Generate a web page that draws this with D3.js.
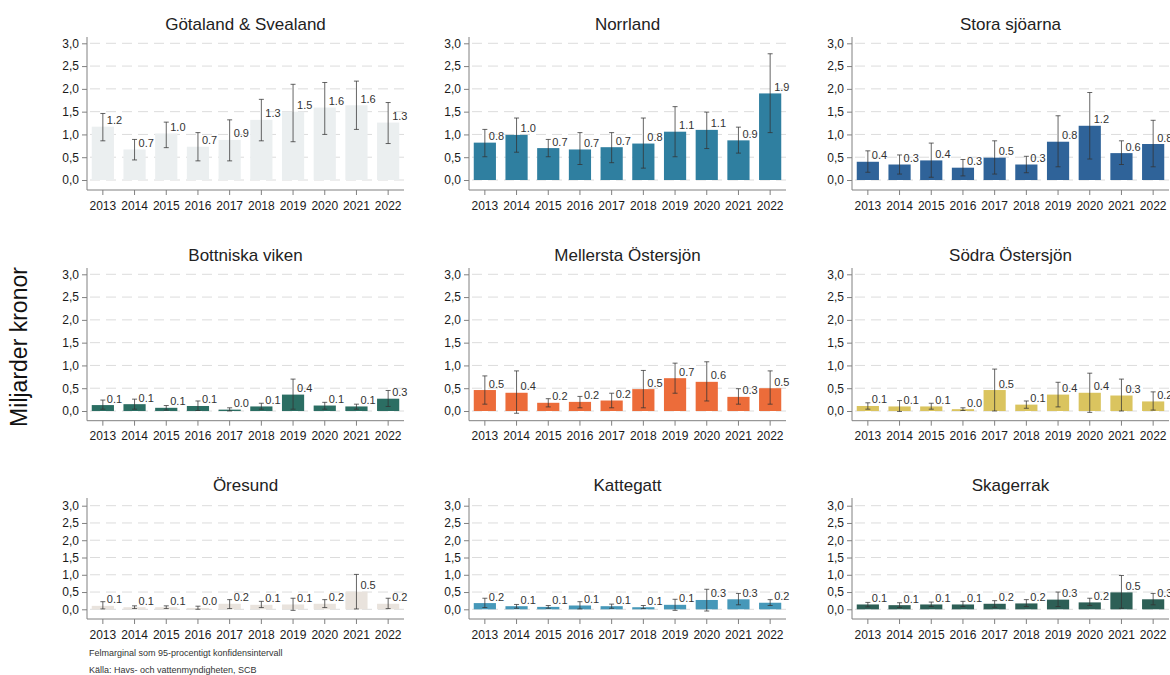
<!DOCTYPE html>
<html>
<head>
<meta charset="utf-8">
<script src="https://cdn.jsdelivr.net/npm/d3@7"></script>
<style>
	body { margin: 0; background: #fff; }
	svg { font-family: "Liberation Sans", Arial, sans-serif; }
</style>
</head>
<body>
<svg id="chart" width="1170" height="675"></svg>
<script>
// data
const years = ["2013", "2014", "2015", "2016", "2017", "2018", "2019", "2020", "2021", "2022"];
const yTicks = [0, 0.5, 1, 1.5, 2, 2.5, 3];

const regions = ["Götaland & Svealand", "Norrland", "Stora sjöarna",
	"Bottniska viken", "Mellersta Östersjön", "Södra Östersjön",
	"Öresund", "Kattegatt", "Skagerrak"];

const colors = ["#ebeff0", "#2f7fa0", "#2f6399",
	"#2b6e63", "#ec6c3a", "#dac45f",
	"#e9e3dd", "#4698b9", "#2d5f56"];

const values = [
	[1.17, 0.67, 1.02, 0.73, 0.88, 1.32, 1.50, 1.59, 1.64, 1.26],
	[0.82, 0.99, 0.70, 0.67, 0.72, 0.80, 1.06, 1.10, 0.87, 1.90],
	[0.40, 0.34, 0.43, 0.27, 0.49, 0.34, 0.84, 1.19, 0.59, 0.79],
	[0.13, 0.15, 0.07, 0.11, 0.03, 0.10, 0.36, 0.12, 0.10, 0.27],
	[0.46, 0.40, 0.18, 0.20, 0.23, 0.48, 0.72, 0.64, 0.31, 0.50],
	[0.11, 0.10, 0.10, 0.04, 0.46, 0.14, 0.36, 0.40, 0.34, 0.21],
	[0.10, 0.06, 0.06, 0.04, 0.16, 0.13, 0.14, 0.16, 0.51, 0.16],
	[0.18, 0.09, 0.07, 0.11, 0.09, 0.06, 0.13, 0.27, 0.29, 0.19],
	[0.14, 0.12, 0.14, 0.14, 0.16, 0.17, 0.28, 0.20, 0.49, 0.29]
];

const ciLow = [
	[0.86, 0.44, 0.71, 0.42, 0.42, 0.86, 0.84, 1.00, 1.11, 0.80],
	[0.51, 0.61, 0.51, 0.34, 0.38, 0.26, 0.51, 0.69, 0.59, 1.04],
	[0.17, 0.13, 0.06, 0.09, 0.13, 0.16, 0.29, 0.46, 0.34, 0.29],
	[0.04, 0.04, 0.02, 0.01, 0.00, 0.04, 0.04, 0.04, 0.04, 0.10],
	[0.15, -0.05, 0.09, 0.07, 0.07, 0.07, 0.39, 0.22, 0.15, 0.15],
	[0.04, -0.01, 0.04, 0.01, 0.00, 0.06, 0.09, -0.03, 0.00, 0.02],
	[0.01, 0.02, 0.02, 0.00, 0.02, 0.05, -0.03, 0.05, 0.01, 0.02],
	[0.05, 0.03, 0.03, 0.01, 0.03, 0.02, -0.03, -0.05, 0.13, 0.11],
	[0.07, 0.05, 0.08, 0.08, 0.06, 0.08, 0.08, 0.11, 0.03, 0.13]
];

const ciHigh = [
	[1.46, 0.89, 1.27, 1.04, 1.32, 1.77, 2.10, 2.14, 2.17, 1.70],
	[1.11, 1.36, 0.89, 1.04, 1.04, 1.36, 1.61, 1.49, 1.16, 2.77],
	[0.64, 0.55, 0.81, 0.45, 0.86, 0.52, 1.41, 1.92, 0.86, 1.31],
	[0.24, 0.26, 0.12, 0.22, 0.07, 0.17, 0.70, 0.19, 0.15, 0.45],
	[0.77, 0.88, 0.27, 0.32, 0.39, 0.89, 1.05, 1.08, 0.49, 0.88],
	[0.18, 0.23, 0.17, 0.07, 0.92, 0.22, 0.63, 0.83, 0.70, 0.42],
	[0.22, 0.10, 0.10, 0.09, 0.28, 0.23, 0.32, 0.28, 1.01, 0.32],
	[0.32, 0.14, 0.11, 0.22, 0.15, 0.11, 0.29, 0.58, 0.46, 0.28],
	[0.20, 0.19, 0.21, 0.23, 0.25, 0.28, 0.50, 0.32, 0.98, 0.46]
];

const yTitle = "Miljarder kronor";
const notes = ["Felmarginal som 95-procentigt konfidensintervall", "Källa: Havs- och vattenmyndigheten, SCB"];

// panel grid
const colX = [87, 469, 852];
const plotW = 317;
const rows = [
	{ y3: 43.3, y0: 180, top: 37, bottom: 190 },
	{ y3: 274.3, y0: 411, top: 268, bottom: 420.7 },
	{ y3: 505.7, y0: 609.3, top: 498, bottom: 619 }
];

const svg = d3.select("#chart");
const fmtAxis = d => d3.format(".1f")(d).replace(".", ",");
const fmtVal = d3.format(".1f");

regions.forEach(function(name, i) {
	const row = rows[Math.floor(i / 3)];
	const x0 = colX[i % 3];

	const x = d3.scaleBand().domain(years).range([x0, x0 + plotW])
		.paddingInner(0.3).paddingOuter(0.15);
	const y = d3.scaleLinear().domain([0, 3]).range([row.y0, row.y3]);

	const g = svg.append("g");

	// dashed grid
	g.selectAll("line.grid").data(yTicks).enter().append("line")
		.attr("class", "grid")
		.attr("x1", x0 + 3).attr("x2", x0 + plotW)
		.attr("y1", d => y(d)).attr("y2", d => y(d))
		.attr("stroke", "#dcdcdc").attr("stroke-dasharray", "10,6");

	const data = years.map((yr, j) => ({ year: yr, v: values[i][j], lo: ciLow[i][j], hi: ciHigh[i][j] }));

	g.selectAll("rect").data(data).enter().append("rect")
		.attr("x", d => x(d.year))
		.attr("width", x.bandwidth())
		.attr("y", d => y(d.v))
		.attr("height", d => y(0) - y(d.v))
		.attr("fill", colors[i]);

	// error bars
	const eb = g.selectAll("g.eb").data(data).enter().append("g")
		.attr("stroke", "#333").attr("stroke-opacity", 0.75).attr("stroke-width", 1);
	eb.append("line")
		.attr("x1", d => x(d.year) + x.bandwidth() / 2).attr("x2", d => x(d.year) + x.bandwidth() / 2)
		.attr("y1", d => y(d.lo)).attr("y2", d => y(d.hi));
	eb.append("line")
		.attr("x1", d => x(d.year) + x.bandwidth() / 2 - 2.5).attr("x2", d => x(d.year) + x.bandwidth() / 2 + 2.5)
		.attr("y1", d => y(d.hi)).attr("y2", d => y(d.hi));
	eb.append("line")
		.attr("x1", d => x(d.year) + x.bandwidth() / 2 - 2.5).attr("x2", d => x(d.year) + x.bandwidth() / 2 + 2.5)
		.attr("y1", d => y(d.lo)).attr("y2", d => y(d.lo));

	// value labels
	g.selectAll("text.val").data(data).enter().append("text")
		.attr("class", "val")
		.attr("x", d => x(d.year) + x.bandwidth() / 2 + 4)
		.attr("y", d => y(d.v) - 2.5)
		.attr("font-size", 11).attr("fill", "#333")
		.text(d => fmtVal(d.v));

	// y axis
	const yAxis = g.append("g").attr("transform", `translate(${x0},0)`)
		.call(d3.axisLeft(y).tickValues(yTicks).tickFormat(fmtAxis).tickSize(5).tickPadding(3));
	yAxis.select(".domain").attr("d", `M0,${row.top}V${row.bottom}`);

	// x axis
	const xAxis = g.append("g").attr("transform", `translate(0,${row.bottom})`)
		.call(d3.axisBottom(x).tickSize(5).tickPadding(6).tickSizeOuter(0));
	xAxis.select(".domain").attr("d", `M${x0},0H${x0 + plotW}`);

	[yAxis, xAxis].forEach(function(a) {
		a.select(".domain").attr("stroke", "#808080");
		a.selectAll(".tick line").attr("stroke", "#808080");
		a.selectAll(".tick text").attr("font-size", 12).attr("fill", "#1a1a1a")
			.attr("font-family", "'Liberation Sans', Arial, sans-serif");
	});

	// title
	g.append("text")
		.attr("x", x0 + plotW / 2)
		.attr("y", row.top - 7)
		.attr("text-anchor", "middle")
		.attr("font-size", 17).attr("fill", "#222")
		.text(name);
});

svg.append("text")
	.attr("transform", "translate(27,347) rotate(-90)")
	.attr("text-anchor", "middle")
	.attr("font-size", 23).attr("fill", "#111")
	.text(yTitle);

svg.selectAll("text.note").data(notes).enter().append("text")
	.attr("class", "note")
	.attr("x", 89)
	.attr("y", (d, i) => 656 + i * 17)
	.attr("font-size", 9).attr("fill", "#333")
	.text(d => d);
</script>
</body>
</html>
